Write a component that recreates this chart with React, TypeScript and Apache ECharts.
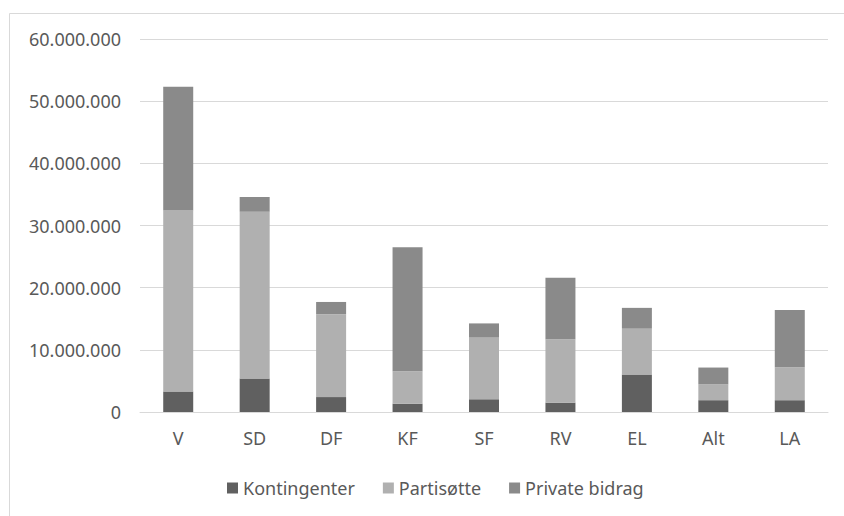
import React, { useEffect, useRef } from "react";
import * as echarts from "echarts";

const categories = ["V", "SD", "DF", "KF", "SF", "RV", "EL", "Alt", "LA"];
const kontingenter = [3300000, 5400000, 2400000, 1350000, 2050000, 1500000, 6050000, 1900000, 1900000];
const partisotte = [29100000, 26800000, 13300000, 5200000, 10000000, 10200000, 7350000, 2550000, 5300000];
const privateBidrag = [19900000, 2400000, 2000000, 19950000, 2200000, 9900000, 3350000, 2700000, 9200000];

const fmt = (v: number) => {
  if (v === 0) return "0";
  return String(Math.round(v)).replace(/\B(?=(\d{3})+(?!\d))/g, ".");
};

export default function App() {
  const ref = useRef<HTMLDivElement>(null);
  useEffect(() => {
    if (!ref.current) return;
    const chart = echarts.init(ref.current, undefined, { renderer: "svg" });
    const font = "Noto Sans";
    const mk = (name: string, data: number[], color: string) => ({
      name,
      type: "bar" as const,
      stack: "total",
      data,
      barWidth: 30,
      itemStyle: { color },
    });
    chart.setOption({
      animation: false,
      backgroundColor: "#ffffff",
      textStyle: { fontFamily: font },
      graphic: [
        {
          type: "rect",
          shape: { x: 9.5, y: 13.5, width: 900, height: 700 },
          style: { fill: "none", stroke: "#d9d9d9", lineWidth: 1 },
          silent: true,
        },
      ],
      grid: { left: 140, right: 16, top: 39, bottom: 104, containLabel: false },
      legend: {
        bottom: 14,
        left: 222,
        itemWidth: 11,
        itemHeight: 11,
        itemGap: 28,
        icon: "rect",
        textStyle: { color: "#595959", fontSize: 18, fontFamily: font },
        data: ["Kontingenter", "Partisøtte", "Private bidrag"],
      },
      xAxis: {
        type: "category",
        data: categories,
        axisLine: { show: true, lineStyle: { color: "#d9d9d9" } },
        axisTick: { show: false },
        axisLabel: { color: "#595959", fontSize: 18, margin: 17, fontFamily: font },
      },
      yAxis: {
        type: "value",
        min: 0,
        max: 60000000,
        interval: 10000000,
        axisLine: { show: false },
        axisTick: { show: false },
        splitLine: { lineStyle: { color: "#d9d9d9", width: 1 } },
        axisLabel: {
          color: "#595959",
          fontSize: 18,
          margin: 19,
          fontFamily: font,
          formatter: (v: number) => fmt(v),
        },
      },
      series: [
        mk("Kontingenter", kontingenter, "#606060"),
        mk("Partisøtte", partisotte, "#b0b0b0"),
        mk("Private bidrag", privateBidrag, "#8a8a8a"),
      ],
    });
    return () => chart.dispose();
  }, []);
  return (
    <div
      ref={ref}
      style={{ position: "fixed", left: 0, top: 0, width: 844, height: 516 }}
    />
  );
}
